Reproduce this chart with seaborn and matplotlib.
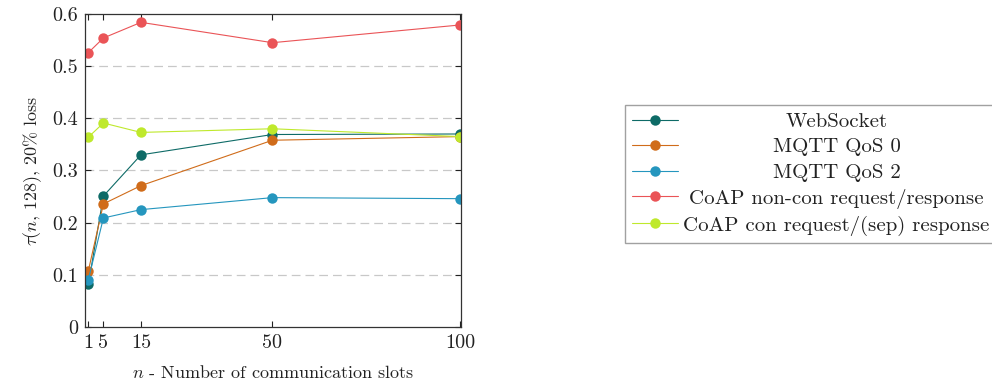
import matplotlib
matplotlib.use("Agg")
import matplotlib.pyplot as plt
import seaborn as sns
import pandas as pd
from matplotlib.offsetbox import VPacker

n_slots = [1, 5, 15, 50, 100]
websocket = [0.082, 0.251, 0.330, 0.369, 0.370]
mqtt_qos0 = [0.108, 0.236, 0.271, 0.358, 0.365]
mqtt_qos2 = [0.091, 0.209, 0.225, 0.248, 0.246]
coap_noncon = [0.526, 0.554, 0.584, 0.545, 0.579]
coap_con = [0.364, 0.391, 0.373, 0.380, 0.365]
series_names = ["WebSocket", "MQTT QoS 0", "MQTT QoS 2",
                "CoAP non-con request/response", "CoAP con request/(sep) response"]
colors = ["#0e6b67", "#d06c1a", "#2596be", "#ea5457", "#bfe92c"]
x_ticks = [1, 5, 15, 50, 100]
y_ticks = [0, 0.1, 0.2, 0.3, 0.4, 0.5, 0.6]
y_tick_labels = ["0", "0.1", "0.2", "0.3", "0.4", "0.5", "0.6"]

sns.set_theme(style="white")
plt.rcParams["font.family"] = ["cmr10", "DejaVu Serif"]
plt.rcParams["mathtext.fontset"] = "cm"
plt.rcParams["axes.unicode_minus"] = False
plt.rcParams["axes.formatter.use_mathtext"] = True

rows = []
for name, vals in zip(series_names, [websocket, mqtt_qos0, mqtt_qos2, coap_noncon, coap_con]):
    for x, y in zip(n_slots, vals):
        rows.append({"n": x, "tau": y, "series": name})
df = pd.DataFrame(rows)

fig = plt.figure(figsize=(9.92, 3.8), dpi=100)
ax = fig.add_axes([85 / 992, 1 - 327 / 380, (461 - 85) / 992, (327 - 14) / 380])

sns.lineplot(data=df, x="n", y="tau", hue="series", hue_order=series_names,
             palette=colors, marker="o", markersize=7.5, markeredgewidth=0,
             linewidth=0.8, legend=False, ax=ax, sort=False)

ax.set_xlim(0.1, 100.2)
ax.set_ylim(0, 0.6)
ax.set_xticks(x_ticks)
ax.set_xticklabels([str(v) for v in x_ticks])
ax.set_yticks(y_ticks)
ax.set_yticklabels(y_tick_labels)
for yv in y_ticks[1:-1]:
    ax.axhline(yv, color="#c8c8c8", linewidth=0.9, dashes=(7, 4), zorder=0)
ax.tick_params(axis="both", which="major", direction="in", length=4, width=0.8,
               top=True, right=True, bottom=True, left=True, labelsize=14.5,
               colors="#222222", pad=5)
for sp in ax.spines.values():
    sp.set_color("#333333")
    sp.set_linewidth(0.9)
ax.set_xlabel("$n$ - Number of communication slots", fontsize=13, color="#222222", labelpad=9)
ax.set_ylabel(r"$\tau(n,\, 128)$, 20% loss", fontsize=13, color="#222222", labelpad=6)

handles = ax.get_lines()[:5]
leg = fig.legend(handles, series_names, loc="upper left",
                 bbox_to_anchor=(625 / 992, 1 - 105 / 380), bbox_transform=fig.transFigure,
                 fontsize=15, frameon=True, fancybox=False, edgecolor="#8a8a8a",
                 handlelength=2.2, handletextpad=0.25, labelspacing=0.33,
                 borderpad=0.35, borderaxespad=0, numpoints=1)
leg.get_frame().set_linewidth(1.0)
for t in leg.get_texts():
    t.set_color("#222222")

fig.canvas.draw()
r = fig.canvas.get_renderer()
W = max(t.get_window_extent(r).width for t in leg.get_texts())
for col in leg._legend_handle_box.get_children():
    for hp in col.get_children():
        ta = hp._children[1]
        hp._children[1] = VPacker(pad=0, sep=0, width=W, align="center", children=[ta])

fig.savefig("out.png", dpi=100)
